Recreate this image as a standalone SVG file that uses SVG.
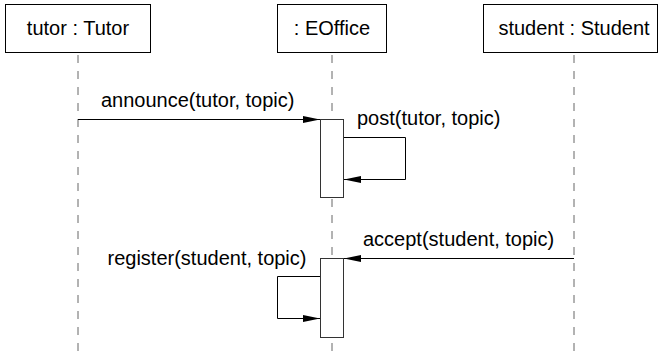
<svg xmlns="http://www.w3.org/2000/svg" width="658" height="355" viewBox="0 0 658 355">
<style>
.box{fill:#fff;stroke:#000;stroke-width:1}
.life{stroke:#666;stroke-width:1;stroke-dasharray:8 8;fill:none}
.msg{stroke:#000;stroke-width:1;fill:none;marker-end:url(#ah)}
.act{fill:#fff;stroke:#333;stroke-width:1}
text{font-family:"Liberation Sans",Arial,sans-serif;font-size:20px;fill:#000}
</style>
<defs>
<marker id="ah" viewBox="0 0 17 8" refX="17" refY="4" markerWidth="17" markerHeight="8" orient="auto" markerUnits="userSpaceOnUse">
<path d="M0,0.5 L17,4 L0,7.5 z" fill="#000"/>
</marker>
</defs>
<rect width="658" height="355" fill="#fff"/>
<g id="lifelines">
<line class="life" x1="78" y1="55" x2="78" y2="351"/>
<line class="life" x1="332" y1="55" x2="332" y2="351"/>
<line class="life" x1="574" y1="55" x2="574" y2="351"/>
</g>
<g id="tutor">
<rect class="box" x="5.5" y="4.5" width="145" height="48"/>
<text x="78" y="34.5" text-anchor="middle">tutor : Tutor</text>
</g>
<g id="eoffice">
<rect class="box" x="277.5" y="4.5" width="109" height="48"/>
<text x="332" y="34.5" text-anchor="middle">: EOffice</text>
</g>
<g id="student">
<rect class="box" x="483.5" y="4.5" width="174" height="48"/>
<text x="574" y="34.5" text-anchor="middle">student : Student</text>
</g>
<g id="activation1">
<rect class="act" x="320.5" y="119.5" width="23" height="78"/>
</g>
<g id="activation2">
<rect class="act" x="320.5" y="258.5" width="23" height="79"/>
</g>
<g id="connectors">
<path class="msg" d="M78,119.5 H320"/>
<path class="msg" d="M344,137.5 H405.5 V179.5 H344"/>
<path class="msg" d="M574,258.5 H344"/>
<path class="msg" d="M320,276.5 H277.5 V318.5 H320"/>
</g>
<g id="labels">
<text x="101" y="107">announce(tutor, topic)</text>
<text x="357" y="125">post(tutor, topic)</text>
<text x="363" y="245.5">accept(student, topic)</text>
<text x="107.5" y="265">register(student, topic)</text>
</g>
</svg>
